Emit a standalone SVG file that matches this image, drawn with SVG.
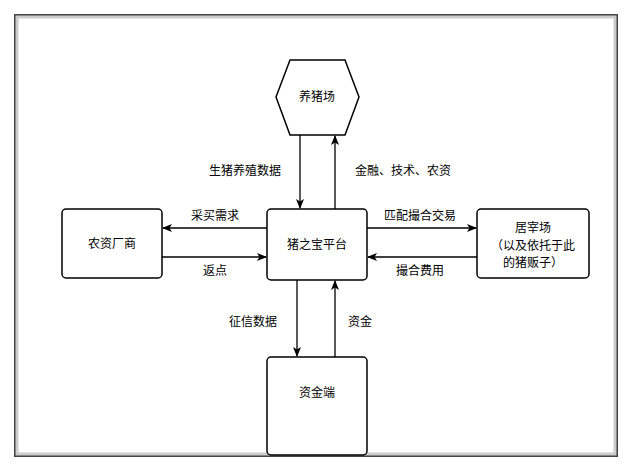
<svg xmlns="http://www.w3.org/2000/svg" width="633" height="471" viewBox="0 0 633 471">
<style>
.n{fill:#fff;stroke:#000;stroke-width:1.5}
.t{font-family:"Liberation Sans","Noto Sans CJK SC",sans-serif;font-size:12px;fill:#000;text-anchor:middle}
.c{stroke:#000;stroke-width:1.3;fill:none;marker-end:url(#a)}
</style>
<defs>
<marker id="a" markerWidth="10" markerHeight="8" refX="9" refY="4" orient="auto" markerUnits="userSpaceOnUse"><path d="M0,0L10,4L0,8L2.5,4z" fill="#000"/></marker>
</defs>
<rect width="633" height="471" fill="#fff"/>
<rect x="15" y="15" width="602" height="441" fill="none" stroke="#444" stroke-width="2"/>
<rect x="17" y="17" width="598" height="437" fill="none" stroke="#ccc" stroke-width="3"/>
<g id="pigfarm"><polygon class="n" points="276,97 290,60 345,60 359,97 345,135 290,135"/><text class="t" x="317" y="101">养猪场</text></g>
<g id="supplier"><rect class="n" x="62" y="209" width="100" height="69" rx="4"/><text class="t" x="112" y="248">农资厂商</text></g>
<g id="platform"><rect class="n" x="267" y="209" width="100" height="71" rx="4"/><text class="t" x="317" y="249">猪之宝平台</text></g>
<g id="slaughter"><rect class="n" x="477" y="209" width="112" height="69" rx="4"/><text class="t" x="533" y="232">居宰场</text><text class="t" x="533" y="250">（以及依托于此</text><text class="t" x="533" y="267">的猪贩子）</text></g>
<g id="fund"><rect class="n" x="267" y="357" width="100" height="98" rx="4"/><text class="t" x="317" y="397">资金端</text></g>
<g id="connectors">
<path class="c" d="M300,135V208"/><path class="c" d="M335,209V136"/>
<path class="c" d="M267,228H163"/><path class="c" d="M162,257H266"/>
<path class="c" d="M367,228H476"/><path class="c" d="M477,257H368"/>
<path class="c" d="M297,280V356"/><path class="c" d="M335,357V281"/>
<text class="t" x="245" y="175">生猪养殖数据</text>
<text class="t" x="403" y="175">金融、技术、农资</text>
<text class="t" x="215" y="220">采买需求</text>
<text class="t" x="215" y="275">返点</text>
<text class="t" x="420" y="220">匹配撮合交易</text>
<text class="t" x="420" y="275">撮合费用</text>
<text class="t" x="253" y="326">征信数据</text>
<text class="t" x="360" y="326">资金</text>
</g>
</svg>
